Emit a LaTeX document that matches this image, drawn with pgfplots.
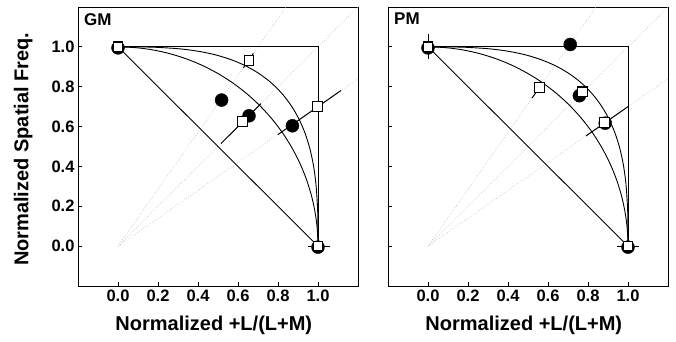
\documentclass[border=0pt]{standalone}
\usepackage{fontspec}
\setmainfont{Liberation Sans}
\usepackage{pgfplots}
\pgfplotsset{compat=1.18}
\pgfplotsset{
  panel/.style={
    scale only axis, width=280pt, height=279pt,
    xmin=-0.2, xmax=1.2, ymin=-0.2, ymax=1.2,
    xtick={0,0.2,0.4,0.6,0.8,1.0},
    ytick={0,0.2,0.4,0.6,0.8,1.0},
    xticklabels={0.0,0.2,0.4,0.6,0.8,1.0},
    tick pos=left, tick align=inside, major tick length=4pt,
    tick style={line width=0.8pt, black},
    ticklabel style={font=\bfseries\fontsize{16.5}{18}\selectfont},
    label style={font=\bfseries\fontsize{20}{22}\selectfont},
    axis line style={line width=0.8pt},
    xlabel style={at={(axis description cs:0.485,-0.14)}, anchor=center},
  },
  ref/.style={black, line width=0.9pt, no marks},
  curve/.style={black, line width=0.9pt, no marks, smooth},
  ray/.style={gray!60, dotted, line width=0.6pt, no marks},
  eb/.style={black, line width=1pt, no marks},
  sq/.style={only marks, mark=square*, mark size=4.9pt, mark options={fill=white, draw=black, line width=1.1pt}},
  dot/.style={only marks, mark=*, mark size=6.5pt, mark options={fill=black, draw=black}},
}
\begin{document}
\begin{tikzpicture}
\useasboundingbox (-78pt,-55pt) rectangle (598pt,286pt);
% ---------------- GM ----------------
\begin{axis}[panel, at={(0pt,0pt)}, anchor=south west,
  yticklabels={0.0,0.2,0.4,0.6,0.8,1.0},
  xlabel={Normalized +L/(L+M)},
  ylabel={Normalized Spatial Freq.},
  ylabel style={at={(axis description cs:-0.196,0.49)}, anchor=center},
]
\addplot[ray] coordinates {(0,0) (0.8403,1.2)};
\addplot[ray] coordinates {(0,0) (1.2,1.2)};
\addplot[ray] coordinates {(0,0) (1.2,0.8403)};
\addplot[ref] coordinates {(0,1) (1,0)};
\addplot[ref] coordinates {(0,1) (1,1) (1,0)};
\addplot[curve] coordinates {(1,0) (0.9962,0.0872) (0.9848,0.1736) (0.9659,0.2588) (0.9397,0.3420) (0.9063,0.4226) (0.8660,0.5) (0.8192,0.5736) (0.7660,0.6428) (0.7071,0.7071) (0.6428,0.7660) (0.5736,0.8192) (0.5,0.8660) (0.4226,0.9063) (0.3420,0.9397) (0.2588,0.9659) (0.1736,0.9848) (0.0872,0.9962) (0,1)};
\addplot[curve] coordinates {(1,0) (0.9994,0.1239) (0.9975,0.1967) (0.9898,0.3112) (0.9771,0.4061) (0.9594,0.4891) (0.9365,0.5631) (0.9086,0.6300) (0.8755,0.6903) (0.8372,0.7448) (0.7937,0.7937) (0.7448,0.8372) (0.6903,0.8755) (0.6300,0.9086) (0.5631,0.9365) (0.4891,0.9594) (0.4061,0.9771) (0.3112,0.9898) (0.1967,0.9975) (0.1239,0.9994) (0,1)};
% error bars
\addplot[eb] coordinates {(0,0.965) (0,1.03)};
\addplot[eb] coordinates {(0.95,0) (1.06,0)};
\addplot[eb] coordinates {(0.627,0.895) (0.677,0.967)};
\addplot[eb] coordinates {(0.515,0.515) (0.715,0.715)};
\addplot[eb] coordinates {(0.80,0.560) (1.115,0.781)};
% filled circles
\addplot[dot] coordinates {(0,0.995) (1,-0.005) (0.518,0.733) (0.655,0.654) (0.872,0.604)};
% squares
\addplot[sq] coordinates {(0,1) (1,0) (0.655,0.932) (0.622,0.624) (0.997,0.700)};
\node[anchor=north west, inner sep=0pt, font=\bfseries\fontsize{17}{17}\selectfont] at (rel axis cs:0,1) [xshift=6pt, yshift=-6pt] {GM};
\end{axis}
% ---------------- PM ----------------
\begin{axis}[panel, at={(310pt,0pt)}, anchor=south west,
  yticklabels={},
  xlabel={Normalized +L/(L+M)},
]
\addplot[ray] coordinates {(0,0) (0.8403,1.2)};
\addplot[ray] coordinates {(0,0) (1.2,1.2)};
\addplot[ray] coordinates {(0,0) (1.2,0.8403)};
\addplot[ref] coordinates {(0,1) (1,0)};
\addplot[ref] coordinates {(0,1) (1,1) (1,0)};
\addplot[curve] coordinates {(1,0) (0.9962,0.0872) (0.9848,0.1736) (0.9659,0.2588) (0.9397,0.3420) (0.9063,0.4226) (0.8660,0.5) (0.8192,0.5736) (0.7660,0.6428) (0.7071,0.7071) (0.6428,0.7660) (0.5736,0.8192) (0.5,0.8660) (0.4226,0.9063) (0.3420,0.9397) (0.2588,0.9659) (0.1736,0.9848) (0.0872,0.9962) (0,1)};
\addplot[curve] coordinates {(1,0) (0.9994,0.1239) (0.9975,0.1967) (0.9898,0.3112) (0.9771,0.4061) (0.9594,0.4891) (0.9365,0.5631) (0.9086,0.6300) (0.8755,0.6903) (0.8372,0.7448) (0.7937,0.7937) (0.7448,0.8372) (0.6903,0.8755) (0.6300,0.9086) (0.5631,0.9365) (0.4891,0.9594) (0.4061,0.9771) (0.3112,0.9898) (0.1967,0.9975) (0.1239,0.9994) (0,1)};
% error bars
\addplot[eb] coordinates {(0,0.94) (0,1.065)};
\addplot[eb] coordinates {(0.945,0) (1.055,0)};
\addplot[eb] coordinates {(0.52,0.743) (0.575,0.821)};
\addplot[eb] coordinates {(0.79,0.553) (1.0,0.70)};
% filled circles
\addplot[dot] coordinates {(0,0.995) (1,-0.005) (0.711,1.012) (0.757,0.755) (0.886,0.617)};
% squares
\addplot[sq] coordinates {(0,1) (1,0) (0.557,0.796) (0.772,0.774) (0.884,0.621)};
\node[anchor=north west, inner sep=0pt, font=\bfseries\fontsize{17}{17}\selectfont] at (rel axis cs:0,1) [xshift=6pt, yshift=-6pt] {PM};
\end{axis}
\end{tikzpicture}
\end{document}
